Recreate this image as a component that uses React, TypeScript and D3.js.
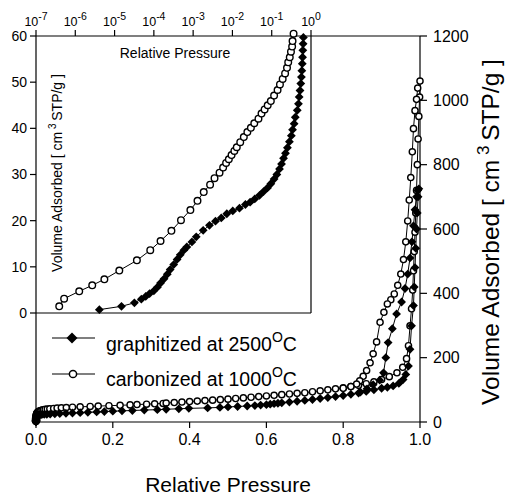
import React from 'react';
import * as d3 from 'd3';

// ---------- data ----------
const carbAdsP = [3.9e-7, 5.2e-7, 1.26e-6, 2.7e-6, 5.5e-6, 1.32e-5, 3.7e-5, 8.1e-5, 1.48e-4, 2.8e-4, 4.9e-4, 8.5e-4, 1.29e-3, 1.86e-3, 2.7e-3, 3.5e-3, 4.7e-3, 5.8e-3, 6.9e-3, 8.1e-3, 9.5e-3, 0.0112, 0.0129, 0.0158, 0.0195, 0.024, 0.0295, 0.036, 0.046, 0.055, 0.066, 0.079, 0.095, 0.115, 0.141, 0.162, 0.19, 0.219, 0.245, 0.263, 0.288, 0.309, 0.331, 0.339,
  0.36, 0.38, 0.40, 0.42, 0.44, 0.46, 0.48, 0.50, 0.52, 0.54, 0.56, 0.58, 0.60, 0.62, 0.64, 0.66, 0.68, 0.70, 0.72, 0.74, 0.76, 0.78, 0.80, 0.82, 0.84, 0.86, 0.88, 0.90, 0.92, 0.94, 0.955, 0.965, 0.97, 0.974, 0.978, 0.981, 0.983, 0.985, 0.987, 0.989, 0.991, 0.993, 0.995, 0.997, 0.999, 1.0];
const carbAdsV = [1.45, 3.1, 4.7, 6.0, 7.3, 9.2, 11.4, 13.6, 15.6, 17.8, 20.1, 22.3, 24.3, 26.2, 27.8, 29.2, 30.4, 31.5, 32.5, 33.3, 34.2, 35.1, 35.9, 37.0, 38.1, 39.2, 40.1, 41.1, 42.1, 43.2, 44.1, 45.0, 45.9, 47.1, 48.3, 49.5, 50.7, 51.9, 53.1, 54.3, 55.4, 56.6, 57.7, 58.9,
  60.5, 62, 63.5, 65, 66.5, 68, 69.5, 71, 73, 75, 77, 79, 81, 83, 85, 87, 89, 91, 94, 97, 100, 103, 106, 110, 114, 119, 125, 132, 141, 153, 170, 197, 237, 299, 352, 410, 470, 530, 590, 650, 720, 800, 880, 950, 1010, 1060];
const carbDesP = [0.994, 0.991, 0.987, 0.983, 0.98, 0.976, 0.972, 0.968, 0.963, 0.957, 0.95, 0.942, 0.933, 0.924, 0.915, 0.906, 0.896, 0.887, 0.878, 0.87, 0.861, 0.852, 0.843, 0.835, 0.82, 0.8];
const carbDesV = [1038, 1003, 968, 912, 840, 760, 690, 625, 560, 505, 460, 425, 398, 380, 367, 341, 310, 249, 212, 184, 160, 142, 128, 118, 110, 105];

const graphAdsP = [4.1e-6, 1.5e-5, 3.2e-5, 4.8e-5, 6.2e-5, 7.8e-5, 1.0e-4, 1.23e-4, 1.48e-4, 1.82e-4, 2.2e-4, 2.6e-4, 3.2e-4, 3.9e-4, 4.7e-4, 5.8e-4, 6.9e-4, 9.3e-4, 1.2e-3, 1.8e-3, 2.6e-3, 3.7e-3, 5.2e-3, 7.2e-3, 0.0102, 0.0151, 0.0214, 0.0282, 0.037, 0.049, 0.062, 0.078, 0.095, 0.115, 0.135, 0.158, 0.178, 0.2, 0.224, 0.251, 0.282, 0.316, 0.339, 0.372, 0.398, 0.447, 0.479, 0.5, 0.525, 0.55, 0.57, 0.585, 0.6, 0.61, 0.62, 0.63, 0.64,
  0.66, 0.68, 0.70, 0.72, 0.74, 0.76, 0.78, 0.80, 0.82, 0.84, 0.86, 0.88, 0.90, 0.915, 0.93, 0.945, 0.956, 0.963, 0.97, 0.974, 0.978, 0.983, 0.985, 0.987, 0.989, 0.991, 0.993, 0.995, 0.997];
const graphAdsV = [0.73, 1.45, 2.2, 3.0, 3.6, 4.2, 4.8, 5.6, 6.5, 7.4, 8.4, 9.4, 10.5, 11.6, 12.6, 13.6, 14.3, 15.4, 16.5, 17.9, 19.0, 19.9, 20.6, 21.5, 22.1, 22.7, 23.5, 24.0, 24.7, 25.5, 26.3, 27.1, 28.0, 29.0, 30.0, 31.2, 32.3, 33.5, 34.6, 35.8, 37.1, 38.4, 39.7, 41.0, 42.4, 43.9, 45.3, 46.8, 48.2, 49.7, 51.1, 52.5, 54.0, 55.4, 56.9, 58.3, 59.7,
  62, 64.5, 67, 70, 73, 76, 79, 82, 86, 90, 95, 100, 105, 108, 112, 120, 132, 148, 174, 226, 299, 362, 420, 480, 540, 600, 650, 700, 725];
const graphDesP = [0.994, 0.991, 0.987, 0.983, 0.979, 0.974, 0.968, 0.961, 0.952, 0.939, 0.928, 0.917, 0.911, 0.905, 0.895, 0.878, 0.862, 0.845];
const graphDesV = [720, 700, 660, 610, 560, 510, 460, 415, 373, 336, 290, 247, 200, 153, 130, 116, 103, 93];

const mainXTicks = [0, 0.2, 0.4, 0.6, 0.8, 1.0];
const mainYTicks = [0, 200, 400, 600, 800, 1000, 1200];
const insetXExps = [-7, -6, -5, -4, -3, -2, -1, 0];
const insetYTicks = [0, 10, 20, 30, 40, 50, 60];
const seriesNames = ['graphitized at 2500', 'carbonized at 1000'];

// ---------- layout ----------
const FONT = '"Liberation Sans", Arial, Helvetica, sans-serif';
const mainX = d3.scaleLinear().domain([0, 1]).range([36, 420]);
const mainY = d3.scaleLinear().domain([0, 1200]).range([422, 36]);
const insetX = d3.scaleLog().domain([1e-7, 1]).range([36, 311]);
const insetY = d3.scaleLinear().domain([0, 60]).range([313, 36]);

type Pt = [number, number];
const zipPts = (p: number[], v: number[]): Pt[] => p.map((d, i) => [d, v[i]] as Pt);

const carb: Pt[] = [...zipPts(carbAdsP, carbAdsV), ...zipPts(carbDesP, carbDesV)];
const graph: Pt[] = [...zipPts(graphAdsP, graphAdsV), ...zipPts(graphDesP, graphDesV)];
const carbInset = zipPts(carbAdsP, carbAdsV).filter(d => d[1] <= 60.5);
const graphInset = zipPts(graphAdsP, graphAdsV).filter(d => d[1] <= 60.5);

const diamond = (cx: number, cy: number, r: number) =>
  `M${cx},${cy - r}L${cx + r},${cy}L${cx},${cy + r}L${cx - r},${cy}Z`;

export default function App() {
  const mainLine = d3.line<Pt>().x(d => mainX(d[0])).y(d => mainY(d[1]));
  const insetLine = d3.line<Pt>().x(d => insetX(d[0])).y(d => insetY(d[1]));
  const R = 3.1;
  const D = 4.4;
  return (
    <svg width={512} height={496} style={{ position: 'absolute', left: 0, top: 0, background: '#fff' }}
      fontFamily={FONT}>
      <rect x={0} y={0} width={512} height={496} fill="#fff" />
      {/* main frame */}
      <g stroke="#000" strokeWidth={1.2} fill="none">
        <line x1={36} y1={36} x2={420} y2={36} />
        <line x1={36} y1={36} x2={36} y2={422} />
        <line x1={36} y1={422} x2={420} y2={422} />
        <line x1={420} y1={36} x2={420} y2={422} />
        {/* inset frame */}
        <line x1={311} y1={36} x2={311} y2={313} />
        <line x1={36} y1={313} x2={311} y2={313} />
      </g>
      {/* ticks */}
      <g stroke="#000" strokeWidth={1.2}>
        {mainXTicks.map(t => <line key={'mx' + t} x1={mainX(t)} x2={mainX(t)} y1={422} y2={428} />)}
        {mainYTicks.map(t => <line key={'my' + t} x1={420} x2={427} y1={mainY(t)} y2={mainY(t)} />)}
        {insetXExps.map(e => <line key={'ix' + e} x1={insetX(Math.pow(10, e))} x2={insetX(Math.pow(10, e))} y1={36} y2={30} />)}
        {insetYTicks.map(t => <line key={'iy' + t} x1={30} x2={36} y1={insetY(t)} y2={insetY(t)} />)}
      </g>
      {/* tick labels */}
      <g fontSize={16} fill="#000">
        {mainXTicks.map(t => (
          <text key={'mxl' + t} x={mainX(t)} y={445} textAnchor="middle">{d3.format('.1f')(t)}</text>
        ))}
        {mainYTicks.map(t => (
          <text key={'myl' + t} x={433} y={mainY(t)} dy="0.35em" textAnchor="start">{t}</text>
        ))}
      </g>
      <g fontSize={14} fill="#000">
        {insetYTicks.map(t => (
          <text key={'iyl' + t} x={27} y={insetY(t)} dy="0.35em" textAnchor="end">{t}</text>
        ))}
      </g>
      <g fontSize={12.5} fill="#000">
        {insetXExps.map(e => (
          <text key={'ixl' + e} x={insetX(Math.pow(10, e))} y={26} textAnchor="middle">
            10<tspan fontSize={10.5} dy={-6}>{e}</tspan>
          </text>
        ))}
      </g>
      {/* axis titles */}
      <text x={228} y={492} textAnchor="middle" fontSize={21}>Relative Pressure</text>
      <text transform="translate(499,232) rotate(-90)" textAnchor="middle" fontSize={24.5}>
        Volume Adsorbed [ cm<tspan fontSize={17} dy={-10}> 3 </tspan><tspan dy={10}>STP/g ]</tspan>
      </text>
      <text x={175} y={58} textAnchor="middle" fontSize={14}>Relative Pressure</text>
      <text transform="translate(62,173) rotate(-90)" textAnchor="middle" fontSize={14}>
        Volume Adsorbed [ cm<tspan fontSize={10} dy={-6}> 3 </tspan><tspan dy={6}>STP/g ]</tspan>
      </text>
      {/* legend */}
      <g>
        <line x1={52} x2={95} y1={338} y2={338} stroke="#000" strokeWidth={1.2} />
        <path d={diamond(72, 338, 5.5)} fill="#000" />
        <text x={106} y={351} fontSize={19.5}>{seriesNames[0]}<tspan fontSize={14} dy={-9}>O</tspan><tspan dy={9}>C</tspan></text>
        <line x1={52} x2={95} y1={374} y2={374} stroke="#000" strokeWidth={1.2} />
        <circle cx={73} cy={374} r={3.6} fill="#fff" stroke="#000" strokeWidth={1.5} />
        <text x={106} y={386} fontSize={19.5}>{seriesNames[1]}<tspan fontSize={14} dy={-9}>O</tspan><tspan dy={9}>C</tspan></text>
      </g>
      {/* main series */}
      <path d={mainLine(carb) || ''} fill="none" stroke="#000" strokeWidth={1} />
      <path d={mainLine(graph) || ''} fill="none" stroke="#000" strokeWidth={1} />
      {carb.map((d, i) => (
        <circle key={'c' + i} cx={mainX(d[0])} cy={mainY(d[1])} r={R} fill="#fff" stroke="#000" strokeWidth={1.4} />
      ))}
      {graph.map((d, i) => (
        <path key={'g' + i} d={diamond(mainX(d[0]), mainY(d[1]), D)} fill="#000" />
      ))}
      {/* inset series */}
      <path d={insetLine(carbInset) || ''} fill="none" stroke="#000" strokeWidth={1} />
      <path d={insetLine(graphInset) || ''} fill="none" stroke="#000" strokeWidth={1} />
      {carbInset.map((d, i) => (
        <circle key={'ci' + i} cx={insetX(d[0])} cy={insetY(d[1])} r={3.3} fill="#fff" stroke="#000" strokeWidth={1.4} />
      ))}
      {graphInset.map((d, i) => (
        <path key={'gi' + i} d={diamond(insetX(d[0]), insetY(d[1]), 4.4)} fill="#000" />
      ))}
    </svg>
  );
}
